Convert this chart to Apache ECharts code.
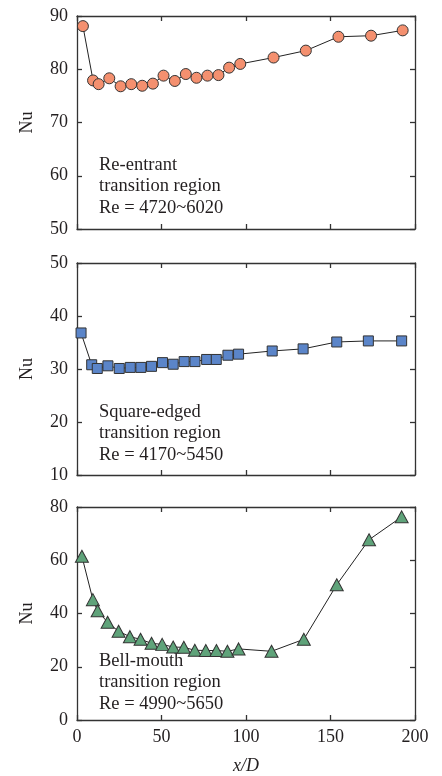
<!DOCTYPE html>
<html><head><meta charset="utf-8">
<script src="https://cdn.jsdelivr.net/npm/echarts@6/dist/echarts.min.js"></script>
<style>html,body{margin:0;padding:0;background:#fff}#c{width:442px;height:776px}</style>
</head><body><div id="c"></div>
<script>
const xReentrant = [3.5, 9.5, 12.8, 19.1, 25.8, 32.1, 38.6, 44.9, 51.2, 57.9, 64.4, 70.7, 77.2, 83.7, 90.0, 96.6, 116.3, 135.4, 154.7, 174.0, 192.7];
const nuReentrant = [88.1, 77.9, 77.2, 78.3, 76.8, 77.2, 76.9, 77.3, 78.8, 77.8, 79.1, 78.4, 78.8, 78.9, 80.3, 81.0, 82.2, 83.5, 86.1, 86.3, 87.3];
const xSquare = [2.4, 8.7, 12.0, 18.3, 25.0, 31.5, 37.8, 44.1, 50.6, 56.9, 63.4, 69.8, 76.7, 82.4, 89.3, 95.6, 115.5, 133.8, 153.7, 172.4, 192.1];
const nuSquare = [36.8, 30.8, 30.1, 30.6, 30.1, 30.3, 30.3, 30.5, 31.2, 30.9, 31.4, 31.4, 31.8, 31.8, 32.6, 32.8, 33.4, 33.8, 35.1, 35.3, 35.3];
const xBell = [2.9, 9.4, 12.2, 18.1, 24.6, 31.3, 37.6, 44.1, 50.4, 56.9, 63.2, 69.7, 76.2, 82.5, 89.0, 95.6, 115.1, 134.2, 153.7, 172.8, 192.1];
const nuBell = [61.5, 45.2, 41.0, 36.7, 33.3, 31.3, 30.3, 28.8, 28.4, 27.4, 27.3, 26.2, 26.1, 26.1, 25.8, 26.7, 25.8, 30.3, 50.8, 67.7, 76.3];
const xTicks = [0, 50, 100, 150, 200];
const yRanges = [[50, 90, 10], [10, 50, 10], [0, 80, 20]];
const labels = [
  ["Re-entrant", "transition region", "Re = 4720~6020"],
  ["Square-edged", "transition region", "Re = 4170~5450"],
  ["Bell-mouth", "transition region", "Re = 4990~5650"]
];

const FONT = "Liberation Serif";
const AX = "#333";
const TXT = "#231f20";
const grids = [
  {left: 77, top: 16, width: 338, height: 213},
  {left: 77, top: 263, width: 338, height: 212},
  {left: 77, top: 507, width: 338, height: 213}
];
const xAxes = [], yAxes = [], series = [], graphics = [];
const mk = [
  {sym: 'circle', size: 11, color: '#F4906F', x: xReentrant, y: nuReentrant},
  {sym: 'rect', size: 10, color: '#5B85C9', x: xSquare, y: nuSquare},
  {sym: 'triangle', size: 12, color: '#5FA37A', x: xBell, y: nuBell}
];
for (let i = 0; i < 3; i++) {
  const base = {type: 'value', min: xTicks[0], max: xTicks[xTicks.length - 1], interval: xTicks[1] - xTicks[0], gridIndex: i,
    axisLine: {show: true, onZero: false, lineStyle: {color: AX, width: 1.3}},
    axisTick: {show: true, inside: true, length: 5, lineStyle: {color: AX, width: 1.3}},
    splitLine: {show: false}};
  xAxes.push(Object.assign({}, base, {position: 'bottom',
    axisLabel: {show: i === 2, color: TXT, fontFamily: FONT, fontSize: 18, margin: 8},
    name: i === 2 ? 'x/D' : '', nameLocation: 'middle', nameGap: 37,
    nameTextStyle: {fontFamily: FONT, fontSize: 18, fontStyle: 'italic', color: TXT}}));
  xAxes.push(Object.assign({}, base, {position: 'top', axisLabel: {show: false}}));
  const [mn, mx, iv] = yRanges[i];
  const yb = {type: 'value', min: mn, max: mx, interval: iv, gridIndex: i,
    axisLine: {show: true, onZero: false, lineStyle: {color: AX, width: 1.3}},
    axisTick: {show: true, inside: true, length: 5, lineStyle: {color: AX, width: 1.3}},
    splitLine: {show: false}};
  yAxes.push(Object.assign({}, yb, {position: 'left',
    axisLabel: {color: TXT, fontFamily: FONT, fontSize: 18, margin: 9},
    name: 'Nu', nameLocation: 'middle', nameGap: 41,
    nameTextStyle: {fontFamily: FONT, fontSize: 18, color: TXT}}));
  yAxes.push(Object.assign({}, yb, {position: 'right', axisLabel: {show: false}}));
  const m = mk[i];
  series.push({type: 'line', xAxisIndex: 2 * i, yAxisIndex: 2 * i,
    data: m.x.map((v, k) => [v, m.y[k]]),
    symbol: m.sym, symbolSize: m.sym === 'triangle' ? [13, 12] : m.size,
    lineStyle: {color: '#222', width: 1},
    itemStyle: {color: m.color, borderColor: '#333', borderWidth: 1},
    animation: false, z: 3});
  labels[i].forEach((t, k) => {
    graphics.push({type: 'text', x: 99, y: [165, 412, 661][i] + k * 21.5,
      style: {text: t, font: '18.5px "' + FONT + '"', fill: TXT, verticalAlign: 'middle', align: 'left'}});
  });
}
const chart = echarts.init(document.getElementById('c'));
chart.setOption({animation: false, grid: grids, xAxis: xAxes, yAxis: yAxes, series: series, graphic: graphics});
</script></body></html>
